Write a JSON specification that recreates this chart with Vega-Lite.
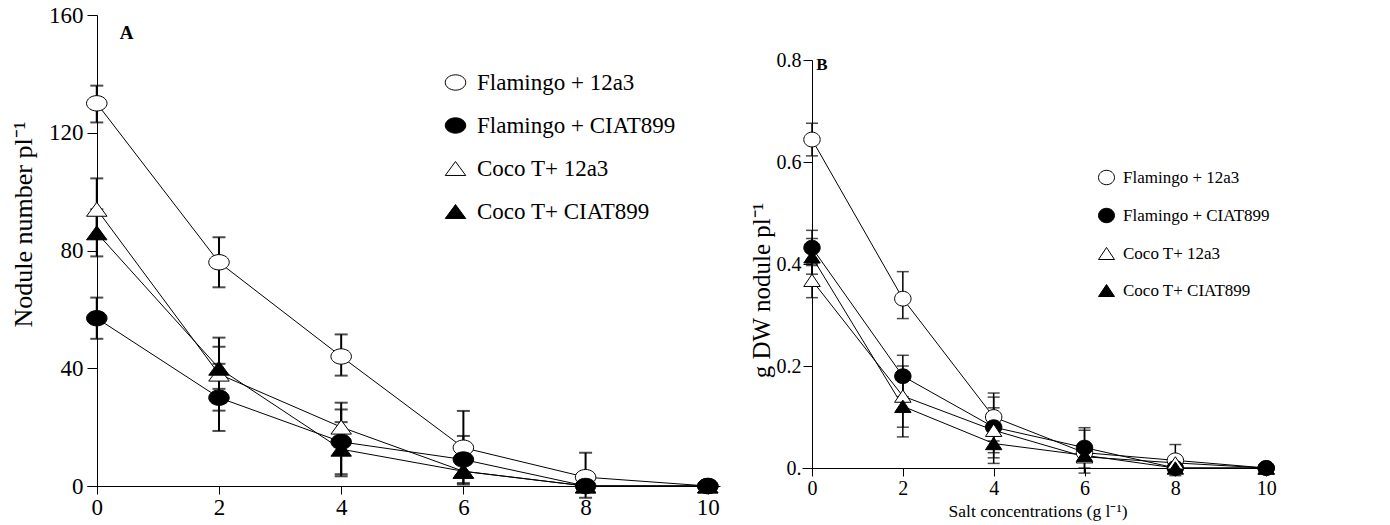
{
  "$schema": "https://vega.github.io/schema/vega-lite/v6.json",
  "background": "white",
  "padding": {"left": 10, "top": 4, "right": 5, "bottom": 2},
  "datasets": {
    "A": [
      {"series": "Flamingo + 12a3", "x": 0, "y": 130, "lo": 123.5, "hi": 136},
      {"series": "Flamingo + 12a3", "x": 2, "y": 76, "lo": 67.5, "hi": 84.5},
      {"series": "Flamingo + 12a3", "x": 4, "y": 44, "lo": 37.5, "hi": 51.5},
      {"series": "Flamingo + 12a3", "x": 6, "y": 13, "lo": 0.5, "hi": 25.5},
      {"series": "Flamingo + 12a3", "x": 8, "y": 3, "lo": -4, "hi": 11.3},
      {"series": "Flamingo + 12a3", "x": 10, "y": 0},
      {"series": "Flamingo + CIAT899", "x": 0, "y": 57, "lo": 50, "hi": 64},
      {"series": "Flamingo + CIAT899", "x": 2, "y": 30, "lo": 18.7, "hi": 41.5},
      {"series": "Flamingo + CIAT899", "x": 4, "y": 15, "lo": 4, "hi": 26},
      {"series": "Flamingo + CIAT899", "x": 6, "y": 9, "lo": 1, "hi": 17},
      {"series": "Flamingo + CIAT899", "x": 8, "y": 0},
      {"series": "Flamingo + CIAT899", "x": 10, "y": 0},
      {"series": "Coco T+ 12a3", "x": 0, "y": 94, "lo": 84, "hi": 104.5},
      {"series": "Coco T+ 12a3", "x": 2, "y": 38, "lo": 25.6, "hi": 50.4},
      {"series": "Coco T+ 12a3", "x": 4, "y": 20, "lo": 11.5, "hi": 28.3},
      {"series": "Coco T+ 12a3", "x": 6, "y": 5},
      {"series": "Coco T+ 12a3", "x": 8, "y": 0},
      {"series": "Coco T+ 12a3", "x": 10, "y": 0},
      {"series": "Coco T+ CIAT899", "x": 0, "y": 86, "lo": 78, "hi": 94},
      {"series": "Coco T+ CIAT899", "x": 2, "y": 40, "lo": 33, "hi": 47.3},
      {"series": "Coco T+ CIAT899", "x": 4, "y": 12.5, "lo": 3.3, "hi": 21.7},
      {"series": "Coco T+ CIAT899", "x": 6, "y": 5},
      {"series": "Coco T+ CIAT899", "x": 8, "y": 0},
      {"series": "Coco T+ CIAT899", "x": 10, "y": 0}
    ],
    "B": [
      {"series": "Flamingo + 12a3", "x": 0, "y": 0.644, "lo": 0.612, "hi": 0.676},
      {"series": "Flamingo + 12a3", "x": 2, "y": 0.332, "lo": 0.293, "hi": 0.385},
      {"series": "Flamingo + 12a3", "x": 4, "y": 0.1, "lo": 0.053, "hi": 0.147},
      {"series": "Flamingo + 12a3", "x": 6, "y": 0.03},
      {"series": "Flamingo + 12a3", "x": 8, "y": 0.015, "lo": -0.015, "hi": 0.046},
      {"series": "Flamingo + 12a3", "x": 10, "y": 0},
      {"series": "Flamingo + CIAT899", "x": 0, "y": 0.432, "lo": 0.397, "hi": 0.466},
      {"series": "Flamingo + CIAT899", "x": 2, "y": 0.18, "lo": 0.14, "hi": 0.221},
      {"series": "Flamingo + CIAT899", "x": 4, "y": 0.08, "lo": 0.02, "hi": 0.139},
      {"series": "Flamingo + CIAT899", "x": 6, "y": 0.04, "lo": 0.0, "hi": 0.079},
      {"series": "Flamingo + CIAT899", "x": 8, "y": 0},
      {"series": "Flamingo + CIAT899", "x": 10, "y": 0},
      {"series": "Coco T+ 12a3", "x": 0, "y": 0.368, "lo": 0.334, "hi": 0.4},
      {"series": "Coco T+ 12a3", "x": 2, "y": 0.141, "lo": 0.08, "hi": 0.2},
      {"series": "Coco T+ 12a3", "x": 4, "y": 0.074, "lo": 0.03, "hi": 0.118},
      {"series": "Coco T+ 12a3", "x": 6, "y": 0.022, "lo": -0.01, "hi": 0.074},
      {"series": "Coco T+ 12a3", "x": 8, "y": 0.01},
      {"series": "Coco T+ 12a3", "x": 10, "y": 0},
      {"series": "Coco T+ CIAT899", "x": 0, "y": 0.414, "lo": 0.38, "hi": 0.45},
      {"series": "Coco T+ CIAT899", "x": 2, "y": 0.121, "lo": 0.061, "hi": 0.18},
      {"series": "Coco T+ CIAT899", "x": 4, "y": 0.048, "lo": 0.009, "hi": 0.087},
      {"series": "Coco T+ CIAT899", "x": 6, "y": 0.025},
      {"series": "Coco T+ CIAT899", "x": 8, "y": 0},
      {"series": "Coco T+ CIAT899", "x": 10, "y": 0}
    ]
  },
  "spacing": 28,
  "resolve": {
    "scale": {"x": "independent", "y": "independent", "shape": "independent", "fill": "independent", "stroke": "independent"},
    "legend": {"shape": "independent", "fill": "independent", "stroke": "independent"}
  },
  "hconcat": [
    {
      "width": 633,
      "height": 471,
      "data": {"name": "A"},
      "encoding": {
        "x": {
          "field": "x", "type": "quantitative",
          "scale": {"domain": [-0.16, 10.2], "nice": false, "zero": false},
          "axis": {"values": [0, 2, 4, 6, 8, 10], "title": null, "tickSize": 8, "labelFontSize": 23, "labelPadding": 2, "labelFlush": false}
        }
      },
      "layer": [
        {
          "mark": {"type": "line", "stroke": "black", "strokeWidth": 1},
          "encoding": {
            "y": {
              "field": "y", "type": "quantitative", "title": "Nodule number pl⁻¹",
              "scale": {"domain": [0, 160], "nice": false},
              "axis": {"values": [0, 40, 80, 120, 160], "tickSize": 10, "labelFontSize": 23, "titleFontSize": 26, "offset": -10, "labelPadding": 4, "titlePadding": 12, "titleY": 209}
            },
            "detail": {"field": "series"},
            "order": {"field": "x"}
          }
        },
        {
          "mark": {"type": "rule", "stroke": "black", "strokeWidth": 2},
          "encoding": {
            "y": {"field": "lo", "type": "quantitative", "title": "Nodule number pl⁻¹"},
            "y2": {"field": "hi"}
          }
        },
        {
          "mark": {"type": "tick", "orient": "horizontal", "color": "black", "size": 13, "thickness": 2},
          "encoding": {"y": {"field": "lo", "type": "quantitative", "title": "Nodule number pl⁻¹"}}
        },
        {
          "mark": {"type": "tick", "orient": "horizontal", "color": "black", "size": 13, "thickness": 2},
          "encoding": {"y": {"field": "hi", "type": "quantitative", "title": "Nodule number pl⁻¹"}}
        },
        {
          "mark": {"type": "point", "filled": true, "strokeWidth": 1, "opacity": 1, "size": 420},
          "encoding": {
            "y": {"field": "y", "type": "quantitative", "title": "Nodule number pl⁻¹"},
            "shape": {
              "field": "series", "type": "nominal",
              "scale": {
                "domain": ["Flamingo + 12a3", "Flamingo + CIAT899", "Coco T+ 12a3", "Coco T+ CIAT899"],
                "range": ["M -1 0 A 1 0.75 0 1 1 1 0 A 1 0.75 0 1 1 -1 0 Z", "M -1 0 A 1 0.75 0 1 1 1 0 A 1 0.75 0 1 1 -1 0 Z", "M 0 -0.68 L 1 0.68 L -1 0.68 Z", "M 0 -0.68 L 1 0.68 L -1 0.68 Z"]
              },
              "legend": {"orient": "none", "legendX": 357, "legendY": 56, "title": null, "labelFontSize": 23, "labelFont": "Liberation Serif", "labelColor": "black", "labelLimit": 400, "symbolSize": 420, "rowPadding": 19, "symbolStrokeWidth": 1, "labelOffset": 10}
            },
            "fill": {
              "field": "series", "type": "nominal",
              "scale": {
                "domain": ["Flamingo + 12a3", "Flamingo + CIAT899", "Coco T+ 12a3", "Coco T+ CIAT899"],
                "range": ["white", "black", "white", "black"]
              },
              "legend": {"orient": "none", "legendX": 357, "legendY": 56, "title": null, "labelFontSize": 23, "labelFont": "Liberation Serif", "labelColor": "black", "labelLimit": 400, "symbolSize": 420, "rowPadding": 19, "symbolStrokeWidth": 1, "labelOffset": 10}
            },
            "stroke": {
              "field": "series", "type": "nominal",
              "scale": {
                "domain": ["Flamingo + 12a3", "Flamingo + CIAT899", "Coco T+ 12a3", "Coco T+ CIAT899"],
                "range": ["black", "black", "black", "black"]
              },
              "legend": {"orient": "none", "legendX": 357, "legendY": 56, "title": null, "labelFontSize": 23, "labelFont": "Liberation Serif", "labelColor": "black", "labelLimit": 400, "symbolSize": 420, "rowPadding": 19, "symbolStrokeWidth": 1, "labelOffset": 10}
            }
          }
        },
        {
          "data": {"values": [{"label": "A", "x": 0.49, "y": 154}]},
          "mark": {"type": "text", "fontWeight": "bold", "fontSize": 19, "font": "Liberation Serif", "color": "black"},
          "encoding": {
            "y": {"field": "y", "type": "quantitative", "title": "Nodule number pl⁻¹"},
            "text": {"field": "label"}
          }
        }
      ]
    },
    {
      "spacing": 15,
      "vconcat": [
        {
          "width": 471,
          "height": 20,
          "data": {"values": [{"k": 1}]},
          "mark": {"type": "point", "opacity": 0},
          "encoding": {}
        },
        {
          "width": 471,
          "height": 408,
          "data": {"name": "B"},
          "encoding": {
            "x": {
              "field": "x", "type": "quantitative",
              "title": "Salt concentrations (g l⁻¹)",
              "scale": {"domain": [-0.22, 10.15], "nice": false, "zero": false},
              "axis": {"values": [0, 2, 4, 6, 8, 10], "tickSize": 8, "labelFontSize": 20, "labelPadding": 2, "labelFlush": false, "titleFontSize": 17.5, "titlePadding": 4}
            }
          },
          "layer": [
            {
              "mark": {"type": "line", "stroke": "black", "strokeWidth": 1},
              "encoding": {
                "y": {
                  "field": "y", "type": "quantitative", "title": "g DW nodule pl⁻¹",
                  "scale": {"domain": [0, 0.8], "nice": false},
                  "axis": {"values": [0, 0.2, 0.4, 0.6, 0.8], "labelExpr": "datum.value === 0 ? '0.' : format(datum.value, '.1f')", "tickSize": 9, "labelFontSize": 20, "titleFontSize": 25, "offset": -10, "labelPadding": 2, "titlePadding": 2, "titleY": 230}
                },
                "detail": {"field": "series"},
                "order": {"field": "x"}
              }
            },
            {
              "mark": {"type": "rule", "stroke": "black", "strokeWidth": 1.5},
              "encoding": {
                "y": {"field": "lo", "type": "quantitative", "title": "g DW nodule pl⁻¹"},
                "y2": {"field": "hi"}
              }
            },
            {
              "mark": {"type": "tick", "orient": "horizontal", "color": "black", "size": 12, "thickness": 1.5},
              "encoding": {"y": {"field": "lo", "type": "quantitative", "title": "g DW nodule pl⁻¹"}}
            },
            {
              "mark": {"type": "tick", "orient": "horizontal", "color": "black", "size": 12, "thickness": 1.5},
              "encoding": {"y": {"field": "hi", "type": "quantitative", "title": "g DW nodule pl⁻¹"}}
            },
            {
              "mark": {"type": "point", "filled": true, "strokeWidth": 1, "opacity": 1, "size": 270},
              "encoding": {
                "y": {"field": "y", "type": "quantitative", "title": "g DW nodule pl⁻¹"},
                "shape": {
                  "field": "series", "type": "nominal",
                  "scale": {
                    "domain": ["Flamingo + 12a3", "Flamingo + CIAT899", "Coco T+ 12a3", "Coco T+ CIAT899"],
                    "range": ["M -1 0 A 1 0.9 0 1 1 1 0 A 1 0.9 0 1 1 -1 0 Z", "M -1 0 A 1 0.9 0 1 1 1 0 A 1 0.9 0 1 1 -1 0 Z", "M 0 -0.75 L 1 0.75 L -1 0.75 Z", "M 0 -0.75 L 1 0.75 L -1 0.75 Z"]
                  },
                  "legend": {"orient": "none", "legendX": 296, "legendY": 154, "title": null, "labelFontSize": 17, "labelFont": "Liberation Serif", "labelColor": "black", "labelLimit": 400, "symbolSize": 256, "rowPadding": 19, "symbolStrokeWidth": 1, "labelOffset": 8}
                },
                "fill": {
                  "field": "series", "type": "nominal",
                  "scale": {
                    "domain": ["Flamingo + 12a3", "Flamingo + CIAT899", "Coco T+ 12a3", "Coco T+ CIAT899"],
                    "range": ["white", "black", "white", "black"]
                  },
                  "legend": {"orient": "none", "legendX": 296, "legendY": 154, "title": null, "labelFontSize": 17, "labelFont": "Liberation Serif", "labelColor": "black", "labelLimit": 400, "symbolSize": 256, "rowPadding": 19, "symbolStrokeWidth": 1, "labelOffset": 8}
                },
                "stroke": {
                  "field": "series", "type": "nominal",
                  "scale": {
                    "domain": ["Flamingo + 12a3", "Flamingo + CIAT899", "Coco T+ 12a3", "Coco T+ CIAT899"],
                    "range": ["black", "black", "black", "black"]
                  },
                  "legend": {"orient": "none", "legendX": 296, "legendY": 154, "title": null, "labelFontSize": 17, "labelFont": "Liberation Serif", "labelColor": "black", "labelLimit": 400, "symbolSize": 256, "rowPadding": 19, "symbolStrokeWidth": 1, "labelOffset": 8}
                }
              }
            },
            {
              "data": {"values": [{"label": "B", "x": 0.22, "y": 0.79}]},
              "mark": {"type": "text", "fontWeight": "bold", "fontSize": 17, "font": "Liberation Serif", "color": "black"},
              "encoding": {
                "y": {"field": "y", "type": "quantitative", "title": "g DW nodule pl⁻¹"},
                "text": {"field": "label"}
              }
            }
          ]
        }
      ]
    }
  ],
  "config": {
    "view": {"stroke": null},
    "font": "Liberation Serif",
    "axis": {
      "domainColor": "black", "tickColor": "black", "labelColor": "black", "titleColor": "black",
      "labelFont": "Liberation Serif", "titleFont": "Liberation Serif", "titleFontWeight": "normal",
      "grid": false, "domainWidth": 1, "tickWidth": 1
    },
    "legend": {"labelFont": "Liberation Serif"}
  }
}
